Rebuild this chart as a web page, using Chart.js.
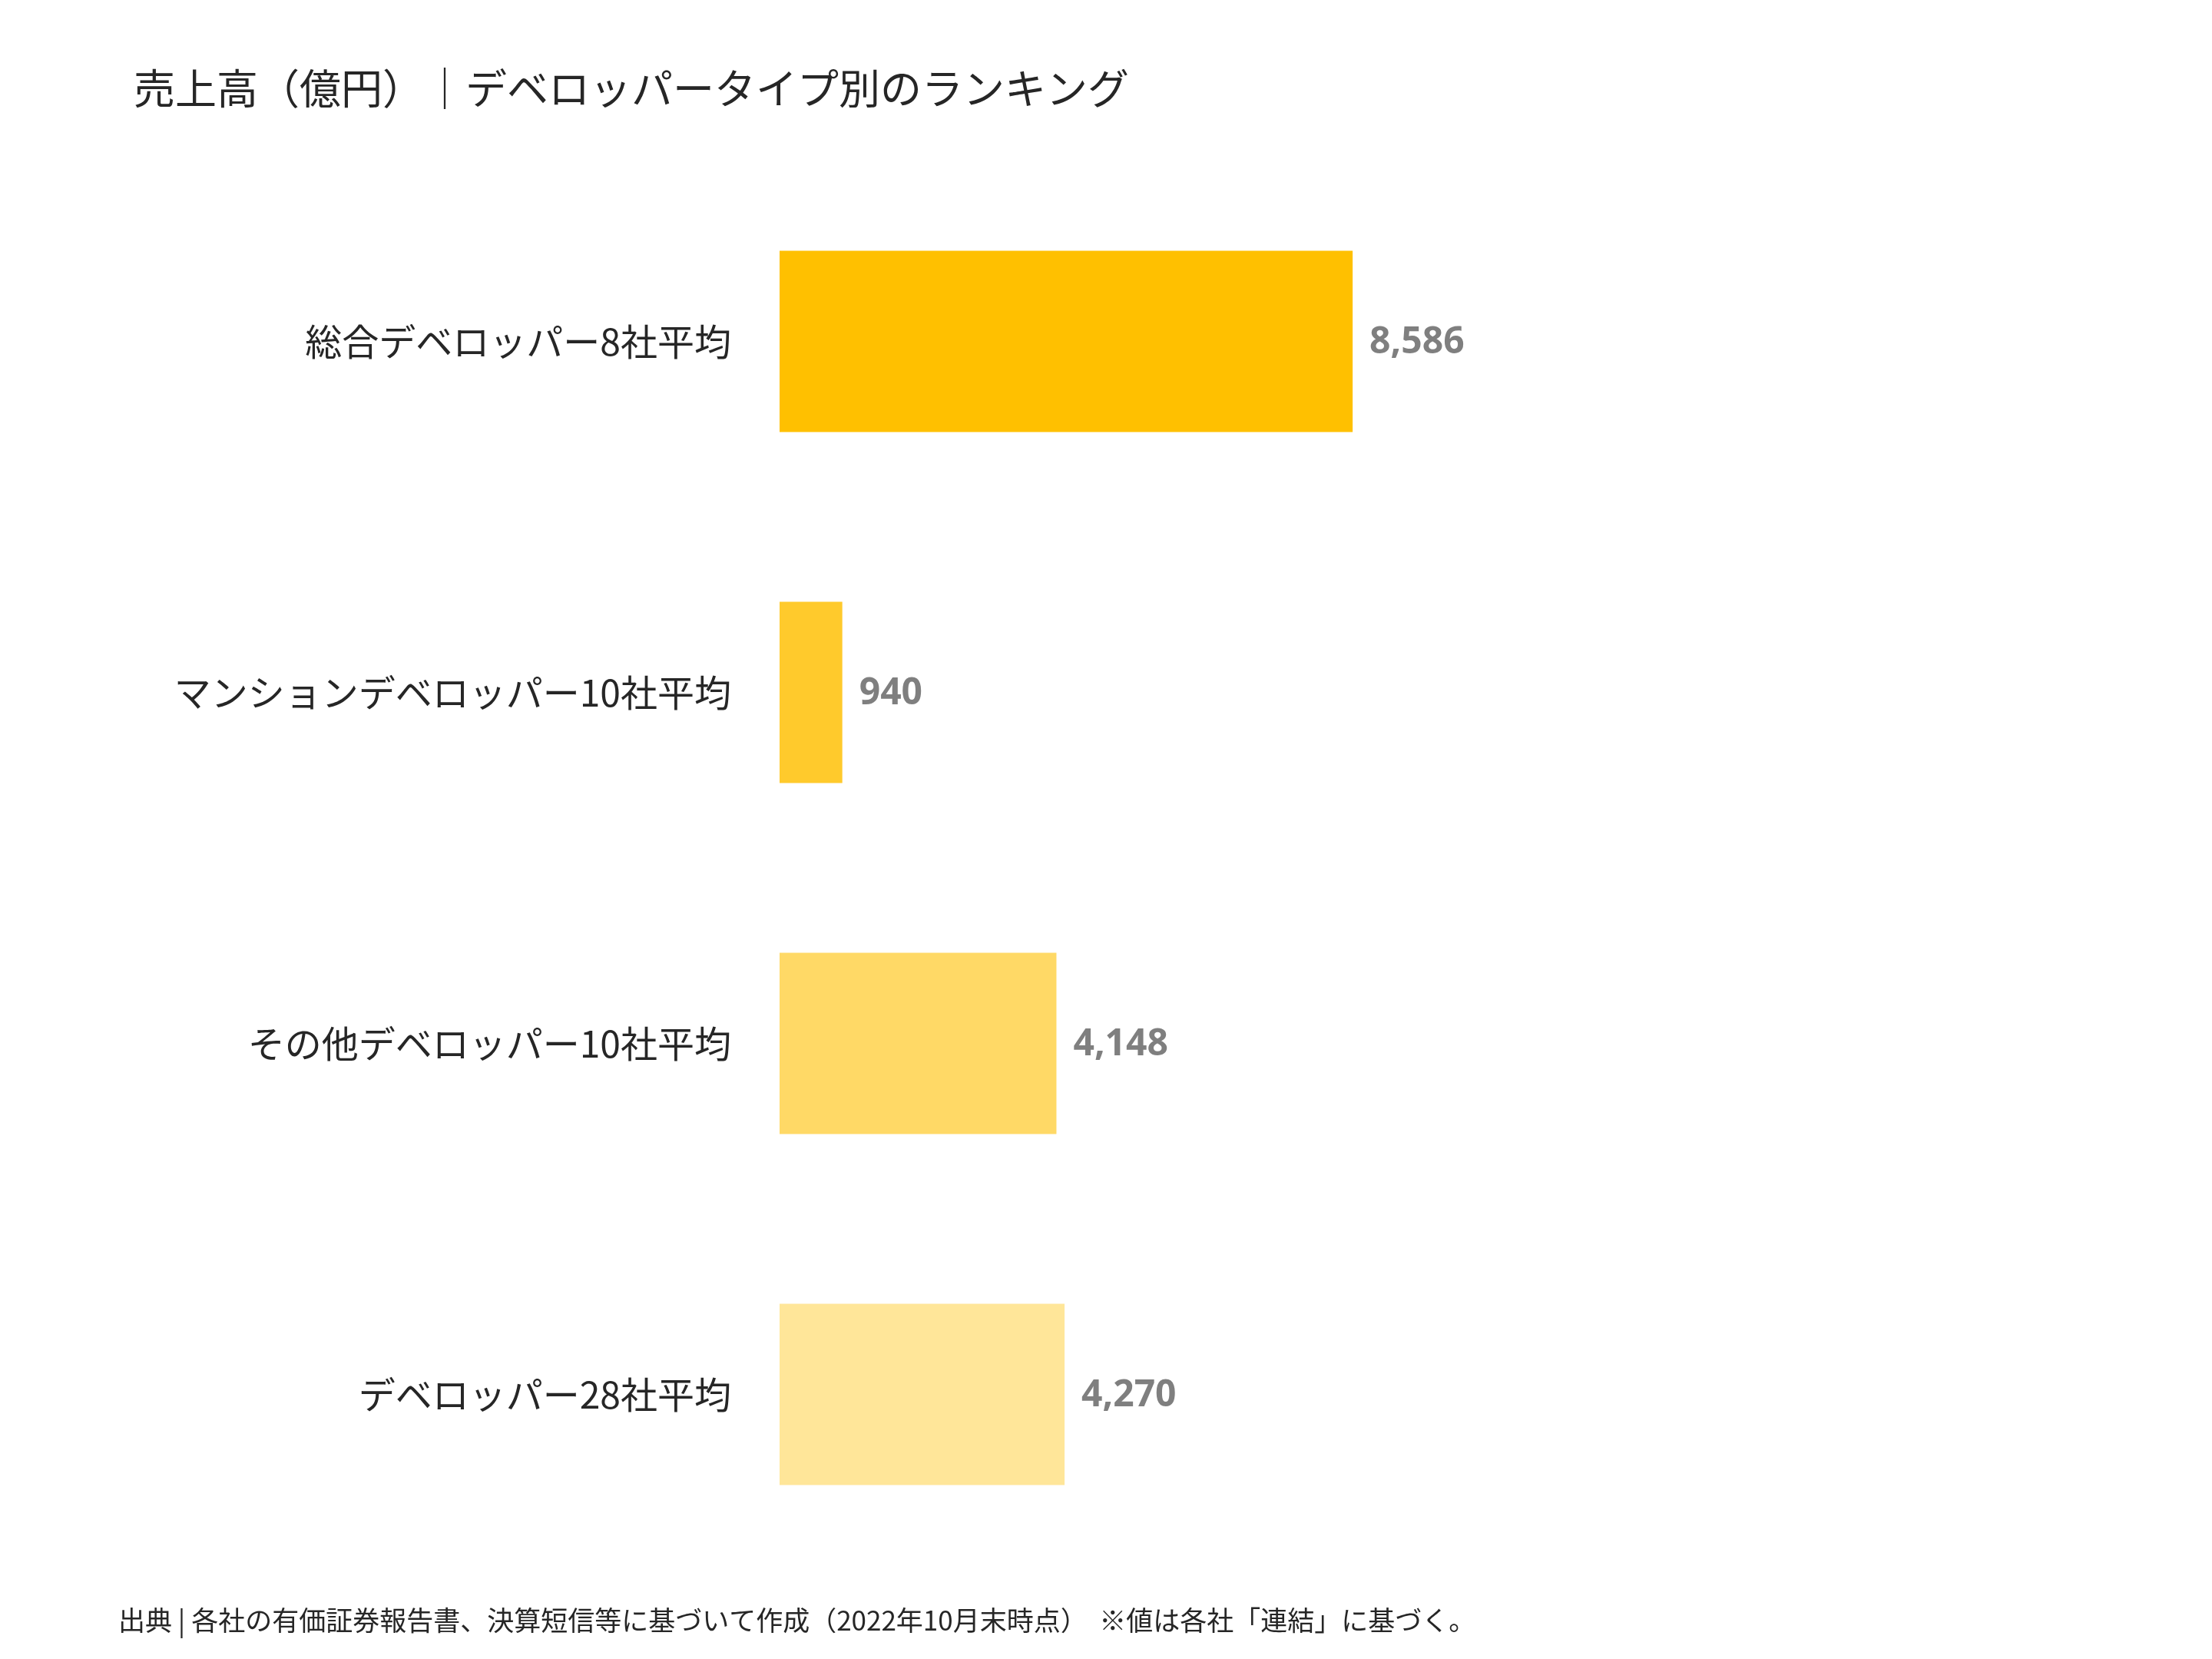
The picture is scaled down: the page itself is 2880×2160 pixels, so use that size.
<!DOCTYPE html>
<html><head><meta charset="utf-8">
<script src="https://cdn.jsdelivr.net/npm/chart.js@4"></script>
<style>html,body{margin:0;padding:0;background:#fff}</style>
</head><body>
<canvas id="c" width="2880" height="2160" style="width:2880px;height:2160px"></canvas>
<script>
const categories = ['総合デベロッパー8社平均','マンションデベロッパー10社平均','その他デベロッパー10社平均','デベロッパー28社平均'];
const values = [8586, 940, 4148, 4270];
const barColors = ['#FFC000','#FFCA2C','#FFD966','#FFE699'];
const titleText = '売上高（億円）｜デベロッパータイプ別のランキング';
const footerText = '出典 | 各社の有価証券報告書、決算短信等に基づいて作成（2022年10月末時点）  ※値は各社「連結」に基づく。';
const JP = '"Noto Sans CJK JP", "Noto Sans", sans-serif';

const deco = {
  id:'deco',
  afterDraw(chart){
    const ctx = chart.ctx;
    ctx.save();
    ctx.fillStyle = '#262626';
    ctx.font = '54px ' + JP;
    ctx.textBaseline = 'middle';
    ctx.fillText(titleText, 174, 115);
    ctx.font = '35px ' + JP;
    ctx.fillText(footerText, 154, 2110);
    // value labels
    const meta = chart.getDatasetMeta(0);
    ctx.font = 'bold 48px "Open Sans", sans-serif';
    ctx.fillStyle = '#7F7F7F';
    meta.data.forEach((bar,i)=>{
      ctx.fillText(values[i].toLocaleString('en-US'), bar.x + 22, bar.y + 2);
    });
    ctx.restore();
  }
};

new Chart(document.getElementById('c'), {
  type:'bar',
  data:{labels:categories, datasets:[{data:values, backgroundColor:barColors, barPercentage:1, categoryPercentage:236/457}]},
  options:{
    indexAxis:'y', responsive:false, devicePixelRatio:1, animation:false,
    layout:{padding:{top:216, bottom:116, right:127, left:0}},
    plugins:{legend:{display:false}, tooltip:{enabled:false}},
    scales:{
      x:{min:0, max:20000, display:false},
      y:{
        grid:{display:false}, border:{display:false},
        ticks:{color:'#262626', padding:55, font:{size:48, family:JP}},
        afterFit(s){ s.width = 1015; }
      }
    }
  },
  plugins:[deco]
});
</script>
</body></html>
